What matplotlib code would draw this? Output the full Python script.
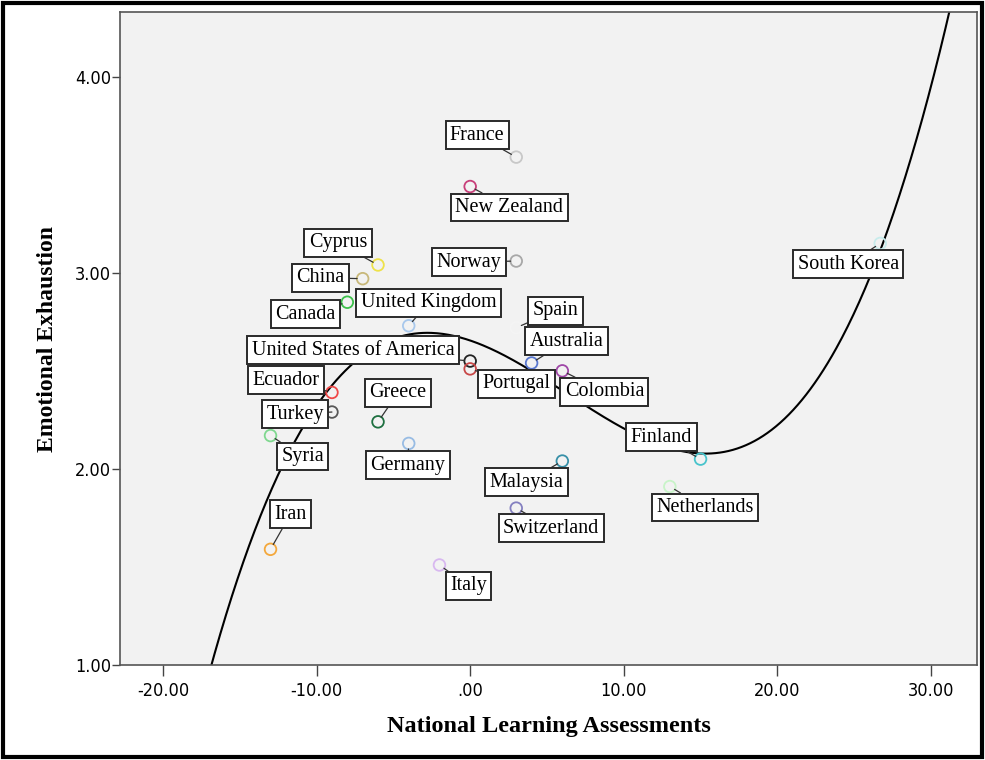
import numpy as np
import matplotlib
matplotlib.use("Agg")
import matplotlib.pyplot as plt
from matplotlib.patches import Rectangle

# Country-level scores
countries = ["France", "New Zealand", "Norway", "Cyprus", "China", "Canada",
             "United Kingdom", "Spain", "United States of America", "Portugal",
             "Australia", "Colombia", "Ecuador", "Turkey", "Greece", "Syria",
             "Germany", "Malaysia", "Finland", "Netherlands", "Switzerland",
             "Iran", "Italy", "South Korea"]
learning = [3.0, 0.0, 3.0, -6.0, -7.0, -8.0,
            -4.0, 3.0, 0.0, 0.0,
            4.0, 6.0, -9.0, -9.0, -6.0, -13.0,
            -4.0, 6.0, 15.0, 13.0, 3.0,
            -13.0, -2.0, 26.7]
exhaustion = [3.59, 3.44, 3.06, 3.04, 2.97, 2.85,
              2.73, 2.72, 2.55, 2.51,
              2.54, 2.50, 2.39, 2.29, 2.24, 2.17,
              2.13, 2.04, 2.05, 1.91, 1.80,
              1.59, 1.51, 3.15]

# Marker colours
colors = ["#c8c8c8", "#c8407a", "#a8a8a8", "#eee24a", "#c8b87a", "#3cc04a",
          "#a8c8ec", "#f4f4f4", "#222222", "#c84848",
          "#5a78d0", "#a048a8", "#f04848", "#585858", "#1e7040", "#80d890",
          "#98bce4", "#3890a8", "#48c4cc", "#c8f4c8", "#8480c0",
          "#f4a83c", "#d8b8f0", "#c8ecec"]

# Label box offsets from each point, in pixels
offsets = [(-39, 22), (39, -21), (-47, -1), (-40, 22), (-42, 1), (-42, -12),
           (20, 23), (39, 17), (-117, 11), (46, -15),
           (35, 22), (42, -21), (-46, 12), (-37, -2), (20, 29), (32, -21),
           (-1, -22), (-36, -21), (-39, 22), (35, -21), (35, -20),
           (20, 35), (29, -21), (-32, -21)]

serif = ["Liberation Serif", "DejaVu Serif"]

fig = plt.figure(figsize=(9.85, 7.6), dpi=100)
ax = fig.add_axes([120 / 985, 1 - 665 / 760, 857 / 985, 653 / 760])
ax.set_facecolor("#f2f2f2")

# Cubic fit line
coef = np.polyfit(learning, exhaustion, 3)
xs = np.linspace(-23, 33, 600)
ax.plot(xs, np.polyval(coef, xs), color="black", lw=1.5, zorder=2)

ax.scatter(learning, exhaustion, s=70, facecolors="none", edgecolors=colors,
           linewidths=1.3, zorder=3)

for name, x, y, off in zip(countries, learning, exhaustion, offsets):
    ax.annotate(name, xy=(x, y), xytext=off, textcoords="offset pixels",
                ha="center", va="center", fontsize=14.5,
                family=serif, color="black",
                bbox=dict(boxstyle="square,pad=0.22", fc="white", ec="#2a2a2a",
                          lw=1.4),
                arrowprops=dict(arrowstyle="-", color="#333333", lw=0.9,
                                shrinkA=0, shrinkB=4),
                zorder=4)

ax.set_xlim(-22.8, 33.0)
ax.set_ylim(1.0, 4.33)
ax.set_xticks([-20, -10, 0, 10, 20, 30])
ax.set_xticklabels(["-20.00", "-10.00", ".00", "10.00", "20.00", "30.00"])
ax.set_yticks([1, 2, 3, 4])
ax.set_yticklabels(["1.00", "2.00", "3.00", "4.00"])
for lab in ax.get_xticklabels() + ax.get_yticklabels():
    lab.set_family(["DejaVu Sans"])
    lab.set_stretch("condensed")
    lab.set_fontsize(13)
ax.tick_params(axis="x", length=8, width=1, color="#444444", pad=4)
ax.tick_params(axis="y", length=6, width=1, color="#444444", pad=0.5)
for sp in ax.spines.values():
    sp.set_color("#555555")
    sp.set_linewidth(1.2)

ax.set_xlabel("National Learning Assessments", fontsize=17.5, fontweight="bold",
              family=serif, labelpad=12)
ax.set_ylabel("Emotional Exhaustion", fontsize=17, fontweight="bold",
              family=serif, labelpad=12)

# Outer frame
fig.patches.append(Rectangle((3 / 985, 3 / 760), 979 / 985, 754 / 760,
                             transform=fig.transFigure, fill=False,
                             ec="black", lw=3))

fig.savefig("out.png", dpi=100)
